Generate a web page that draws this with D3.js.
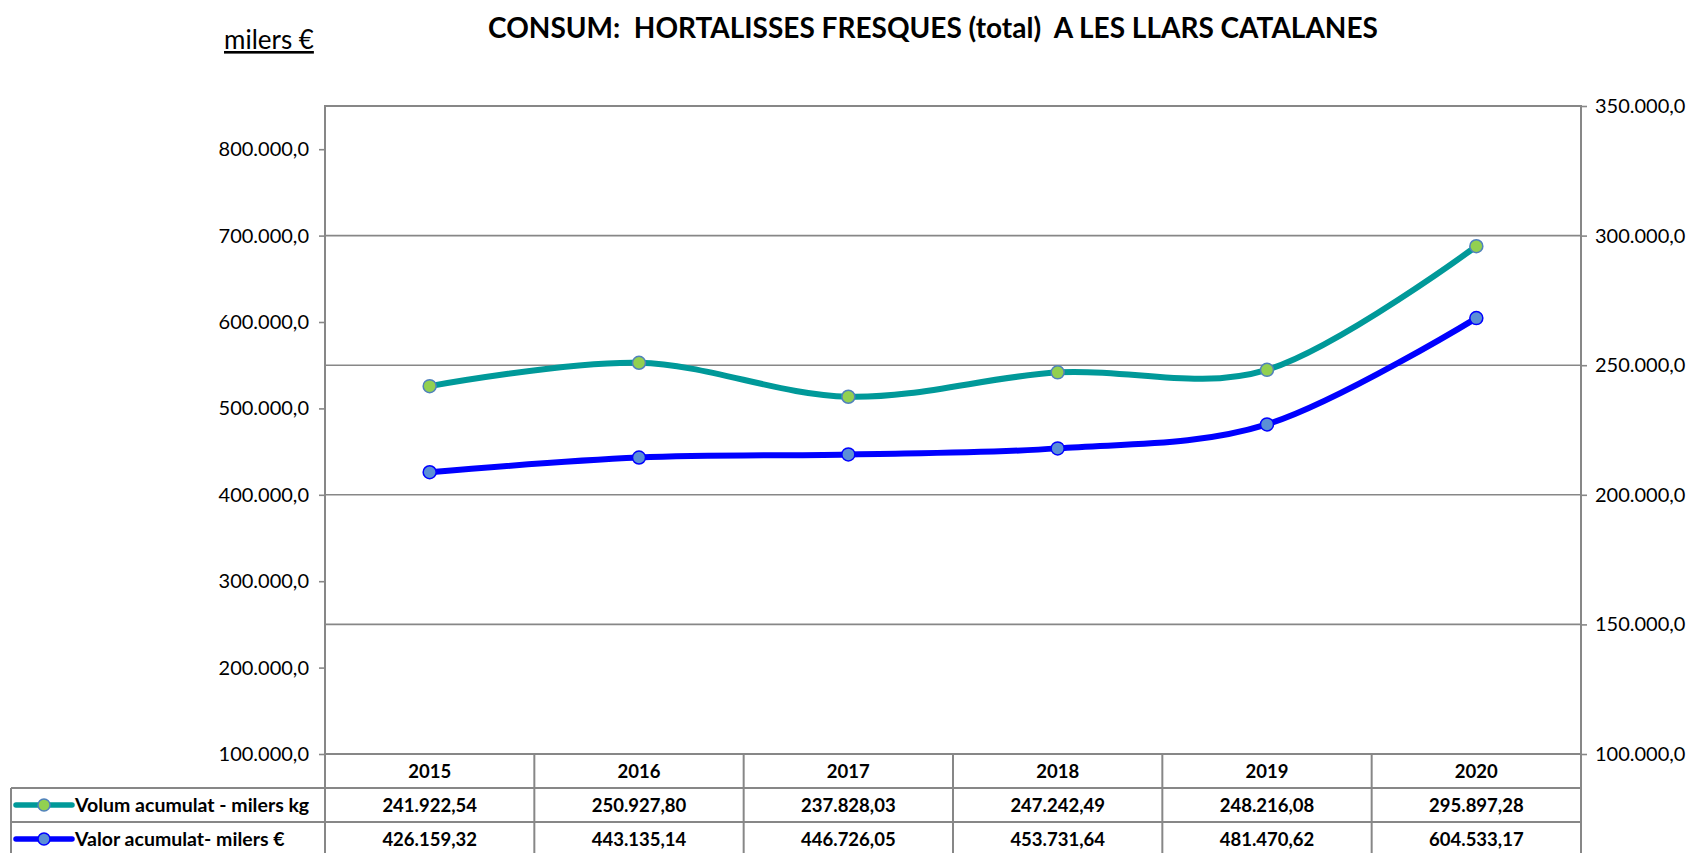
<!DOCTYPE html>
<html>
<head>
<meta charset="utf-8">
<script src="https://cdn.jsdelivr.net/npm/d3@7"></script>
<style>
  body { margin: 0; background: #fff; }
  svg { display: block; font-family: Lato, "Open Sans", sans-serif; }
  .grid-line { stroke: #878787; stroke-width: 1.6; }
  .frame-line { stroke: #878787; stroke-width: 2; fill: none; }
  .tick-label { font-size: 20px; fill: #000; }
  .cell-label { font-size: 18.5px; font-weight: bold; fill: #000; }
  .legend-label { font-size: 19.5px; font-weight: bold; fill: #000; }
</style>
</head>
<body>
<svg id="chart" width="1692" height="853"></svg>
<script>
"use strict"

var years = ["2015", "2016", "2017", "2018", "2019", "2020"]
var volum = [241922.54, 250927.80, 237828.03, 247242.49, 248216.08, 295897.28]
var valor = [426159.32, 443135.14, 446726.05, 453731.64, 481470.62, 604533.17]
var leftTicks = [100000, 200000, 300000, 400000, 500000, 600000, 700000, 800000]
var rightTicks = [100000, 150000, 200000, 250000, 300000, 350000]

var series = [
  { name: "Volum acumulat - milers kg", values: volum, axis: "right",
    stroke: "#009999", fill: "#92d050", edge: "#4f81bd" },
  { name: "Valor acumulat- milers €", values: valor, axis: "left",
    stroke: "#0000ff", fill: "#5b8fd6", edge: "#0000ff" }
]

var ca = d3.formatLocale({ decimal: ",", thousands: ".", grouping: [3], currency: ["", "€"] })
var fmtAxis = ca.format(",.1f")
var fmtCell = ca.format(",.2f")

var box = { left: 325, right: 1581, top: 106, bottom: 754 }
var rowH = 34

var svg = d3.select("#chart")

var x = d3.scaleBand()
  .domain(years)
  .range([box.left, box.right])

var yLeft = d3.scaleLinear()
  .domain([100000, 850000])
  .range([box.bottom, box.top])

var yRight = d3.scaleLinear()
  .domain([100000, 350000])
  .range([box.bottom, box.top])

// horizontal grid follows the right axis
svg.append("g").selectAll("line")
  .data(rightTicks.slice(1, -1))
  .enter().append("line")
  .attr("class", "grid-line")
  .attr("x1", box.left)
  .attr("x2", box.right)
  .attr("y1", function(d){ return yRight(d) })
  .attr("y2", function(d){ return yRight(d) })

// plot frame
svg.append("rect")
  .attr("class", "frame-line")
  .attr("x", box.left)
  .attr("y", box.top)
  .attr("width", box.right - box.left)
  .attr("height", box.bottom - box.top)

var leftAxis = svg.append("g")
  .attr("transform", "translate(" + box.left + ",0)")
  .call(d3.axisLeft(yLeft).tickValues(leftTicks).tickFormat(fmtAxis).tickSize(6).tickPadding(10))
var rightAxis = svg.append("g")
  .attr("transform", "translate(" + box.right + ",0)")
  .call(d3.axisRight(yRight).tickValues(rightTicks).tickFormat(fmtAxis).tickSize(6).tickPadding(8))

;[leftAxis, rightAxis].forEach(function(a) {
  a.attr("font-family", null).attr("font-size", null)
  a.select(".domain").remove()
  a.selectAll(".tick line").attr("stroke", "#878787").attr("stroke-width", 1.6)
  a.selectAll(".tick text").attr("class", "tick-label")
})

// data table under the plot
var table = svg.append("g")
var tableBottom = box.bottom + rowH * 3 + 2

table.selectAll(".vline")
  .data(d3.range(years.length + 1))
  .enter().append("line")
  .attr("class", "frame-line")
  .attr("x1", function(i){ return box.left + i * x.bandwidth() })
  .attr("x2", function(i){ return box.left + i * x.bandwidth() })
  .attr("y1", box.bottom)
  .attr("y2", tableBottom)

table.selectAll(".hline")
  .data([1, 2])
  .enter().append("line")
  .attr("class", "frame-line")
  .attr("x1", 11)
  .attr("x2", box.right)
  .attr("y1", function(r){ return box.bottom + r * rowH })
  .attr("y2", function(r){ return box.bottom + r * rowH })

table.append("line")
  .attr("class", "frame-line")
  .attr("x1", 11).attr("x2", 11)
  .attr("y1", box.bottom + rowH)
  .attr("y2", tableBottom)

table.selectAll(".year")
  .data(years)
  .enter().append("text")
  .attr("class", "cell-label")
  .attr("x", function(d){ return x(d) + x.bandwidth() / 2 })
  .attr("y", box.bottom + rowH / 2)
  .attr("dy", "0.36em")
  .attr("text-anchor", "middle")
  .text(function(d){ return d })

series.forEach(function(s, r) {
  var cy = box.bottom + rowH * (r + 1) + rowH / 2

  table.append("line")
    .attr("x1", 16).attr("x2", 72)
    .attr("y1", cy).attr("y2", cy)
    .attr("stroke", s.stroke)
    .attr("stroke-width", 5.5)
    .attr("stroke-linecap", "round")
  table.append("circle")
    .attr("cx", 44).attr("cy", cy).attr("r", 6)
    .attr("fill", s.fill)
    .attr("stroke", s.edge)
    .attr("stroke-width", 1.5)
  table.append("text")
    .attr("class", "legend-label")
    .attr("x", 75)
    .attr("y", cy)
    .attr("dy", "0.36em")
    .text(s.name)

  table.selectAll(".val" + r)
    .data(s.values)
    .enter().append("text")
    .attr("class", "cell-label")
    .attr("x", function(d, i){ return x(years[i]) + x.bandwidth() / 2 })
    .attr("y", cy)
    .attr("dy", "0.36em")
    .attr("text-anchor", "middle")
    .text(function(d){ return fmtCell(d) })
})

// series lines, smoothed like the spreadsheet
series.forEach(function(s) {
  var y = s.axis === "left" ? yLeft : yRight
  var line = d3.line()
    .x(function(d, i){ return x(years[i]) + x.bandwidth() / 2 })
    .y(function(d){ return y(d) })
    .curve(d3.curveCatmullRom.alpha(0))

  svg.append("path")
    .datum(s.values)
    .attr("d", line)
    .attr("fill", "none")
    .attr("stroke", s.stroke)
    .attr("stroke-width", 6)
    .attr("stroke-linecap", "round")

  svg.append("g").selectAll("circle")
    .data(s.values)
    .enter().append("circle")
    .attr("cx", function(d, i){ return x(years[i]) + x.bandwidth() / 2 })
    .attr("cy", function(d){ return y(d) })
    .attr("r", 6.5)
    .attr("fill", s.fill)
    .attr("stroke", s.edge)
    .attr("stroke-width", 1.5)
})

svg.append("text")
  .attr("x", 933)
  .attr("y", 38)
  .attr("text-anchor", "middle")
  .attr("font-size", 28)
  .attr("font-weight", "bold")
  .attr("xml:space", "preserve")
  .text("CONSUM:  HORTALISSES FRESQUES (total)  A LES LLARS CATALANES")

svg.append("text")
  .attr("x", 224)
  .attr("y", 49)
  .attr("font-size", 26)
  .attr("text-decoration", "underline")
  .text("milers €")
</script>
</body>
</html>
